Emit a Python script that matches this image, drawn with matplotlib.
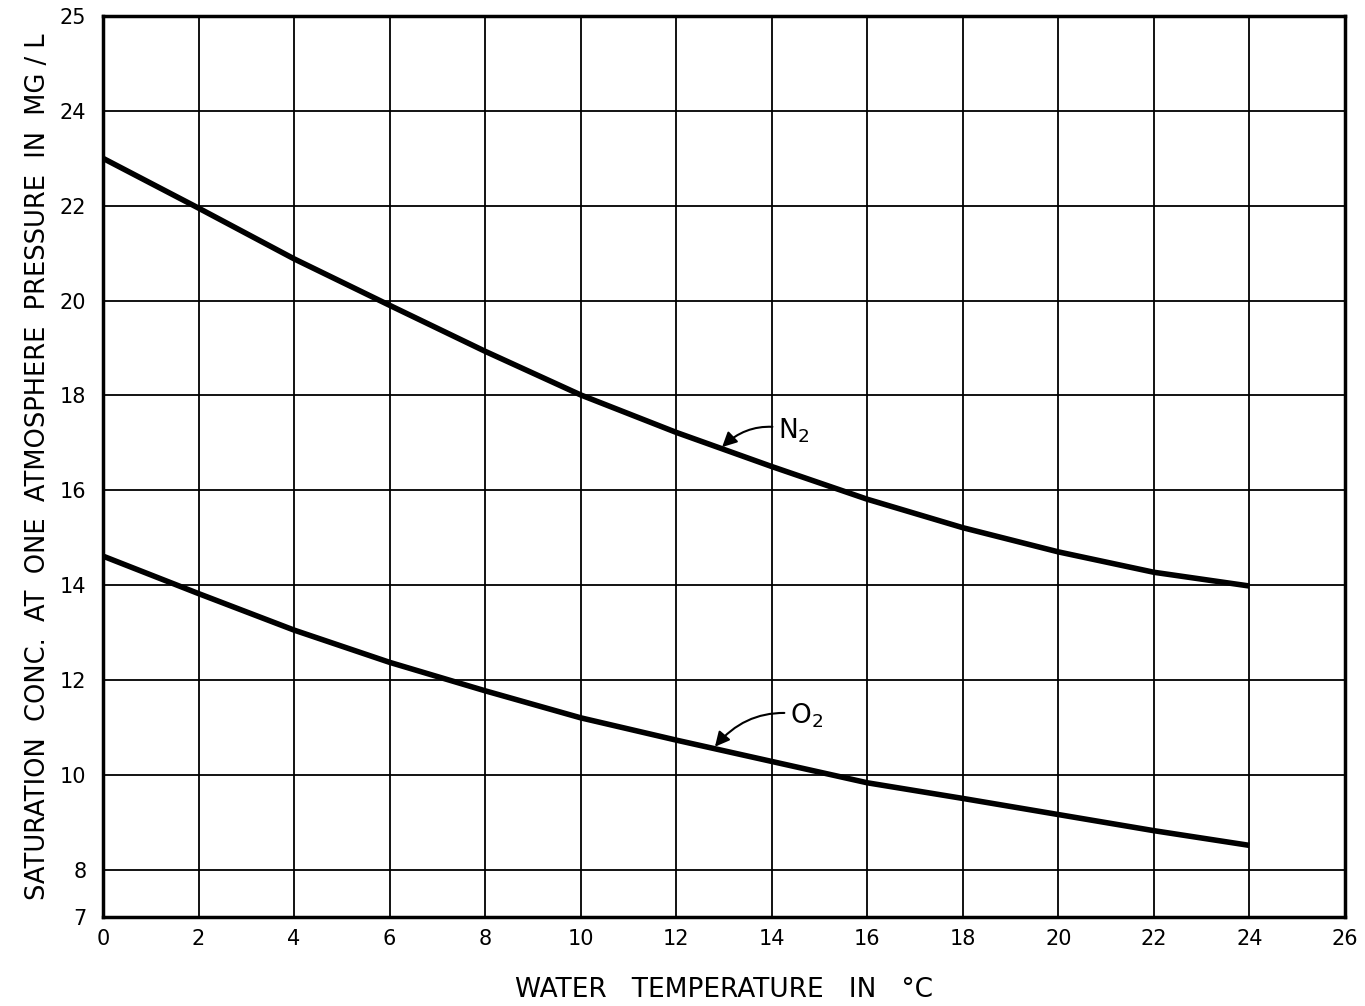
import matplotlib.pyplot as plt

temp = [0, 2, 4, 6, 8, 10, 12, 14, 16, 18, 20, 22, 24]
n2 = [23.0, 21.95, 20.88, 19.9, 18.93, 18.01, 17.22, 16.5, 15.81, 15.21, 14.70, 14.27, 13.98]
o2 = [14.61, 13.82, 13.05, 12.37, 11.77, 11.2, 10.73, 10.28, 9.83, 9.5, 9.16, 8.82, 8.51]

x_ticks = list(range(0, 27, 2))
# the top of the original grid sits two units above 24 but is labelled 25
y_ticks = [7, 8, 10, 12, 14, 16, 18, 20, 22, 24, 26]
y_labels = ['7', '8', '10', '12', '14', '16', '18', '20', '22', '24', '25']

plt.rcParams['font.family'] = 'DejaVu Sans'

fig = plt.figure(figsize=(13.65, 10.06), dpi=100)
ax = fig.add_axes([0.0755, 0.0885, 0.9098, 0.8955])

ax.plot(temp, n2, color='black', linewidth=4, solid_capstyle='butt', solid_joinstyle='round')
ax.plot(temp, o2, color='black', linewidth=4, solid_capstyle='butt', solid_joinstyle='round')

ax.set_xlim(0, 26)
ax.set_ylim(7, 26)
ax.set_xticks(x_ticks)
ax.set_yticks(y_ticks)
ax.set_xticklabels([str(t) for t in x_ticks], fontsize=15)
ax.set_yticklabels(y_labels, fontsize=15)
ax.tick_params(axis='x', length=0, pad=9)
ax.tick_params(axis='y', length=0, pad=12)

for x in x_ticks[1:-1]:
    ax.axvline(x, color='black', linewidth=1.3)
for y in y_ticks[1:-1]:
    ax.axhline(y, color='black', linewidth=1.3)
for s in ax.spines.values():
    s.set_linewidth(2.5)

ax.annotate('N$_2$', xy=(12.96, 16.91), xytext=(14.13, 17.25), fontsize=19,
            va='center', ha='left',
            arrowprops=dict(arrowstyle='-|>', color='black', lw=1.5,
                            connectionstyle='arc3,rad=0.3', mutation_scale=22,
                            shrinkA=2, shrinkB=0))
ax.annotate('O$_2$', xy=(12.81, 10.59), xytext=(14.38, 11.25), fontsize=19,
            va='center', ha='left',
            arrowprops=dict(arrowstyle='-|>', color='black', lw=1.5,
                            connectionstyle='arc3,rad=0.3', mutation_scale=22,
                            shrinkA=2, shrinkB=0))

ax.set_xlabel('WATER   TEMPERATURE   IN   \u00b0C', fontsize=19, labelpad=20)
ax.set_ylabel('SATURATION  CONC.  AT  ONE  ATMOSPHERE  PRESSURE  IN  MG / L',
              fontsize=18.5, labelpad=6)

fig.savefig('out.png', dpi=100)
